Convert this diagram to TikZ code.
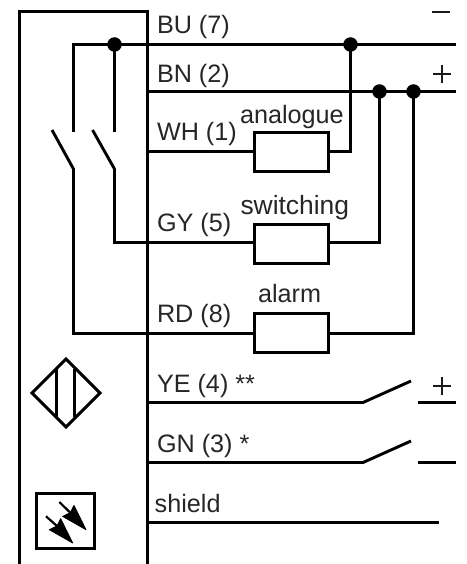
\documentclass[tikz,border=0pt]{standalone}
\usepackage{fontspec}
\setmainfont{Liberation Sans}
\tikzset{
  x=1pt,y=-1pt,
  wire/.style={line width=2.9pt,line cap=butt,line join=miter,black},
  dot/.style={circle,fill=black,inner sep=0pt,minimum size=14.5pt,draw=none},
  load/.style={draw=black,line width=2.9pt,fill=white,minimum width=74pt,minimum height=39pt,inner sep=0pt,outer sep=0pt},
  lbl/.style={anchor=base west,inner sep=0pt,outer sep=0pt,font=\fontsize{25.2}{28}\selectfont,text=black!85},
  sign/.style={line width=1.8pt,black!90},
  arrowhead/.style={fill=black,draw=black,line width=0.8pt,line join=round}
}
\begin{document}
\begin{tikzpicture}
\useasboundingbox (0,0) rectangle (466,564);
% coordinates
\coordinate (tl) at (19.5,11.5); \coordinate (tr) at (147.5,11.5);
\coordinate (bl) at (19.5,564); \coordinate (br) at (147.5,564);
\coordinate (buL) at (73.5,44.5); \coordinate (buR) at (456,44.5);
\coordinate (bnL) at (147.5,91.5); \coordinate (bnR) at (456,91.5);
\node[dot] (d1) at (114.5,44.5) {};
\node[dot] (d2) at (350.5,44.5) {};
\node[dot] (d3) at (379.5,91.5) {};
\node[dot] (d4) at (413.5,91.5) {};
% housing
\draw[wire] (bl) -- (tl) -- (tr) -- (br);
% rails
\draw[wire] (73.5,132) -- (buL) -- (buR);
\draw[wire] (bnL) -- (bnR);
\draw[wire] (d1.center) -- (114.5,132);
% switches and load wires
\draw[wire] (52,130) -- (73.5,169) -- (73.5,333.5) -- (254,333.5);
\draw[wire] (92.5,130) -- (114.5,169) -- (114.5,242.5) -- (254,242.5);
\draw[wire] (147.5,151.5) -- (254,151.5);
\draw[wire] (328,151.5) -- (350.5,151.5) -- (d2.center);
\draw[wire] (328,242.5) -- (379.5,242.5) -- (d3.center);
\draw[wire] (328,333.5) -- (413.5,333.5) -- (d4.center);
\node[load] (ra) at (291.5,152) {};
\node[load] (rs) at (291.5,244) {};
\node[load] (rr) at (291.5,333) {};
% lower outputs
\draw[wire] (147.5,402.5) -- (363,402.5) -- (411,381);
\draw[wire] (418,402.5) -- (456,402.5);
\draw[wire] (147.5,462.5) -- (363,462.5) -- (411,441);
\draw[wire] (418,462.5) -- (456,462.5);
\draw[wire] (147.5,522.5) -- (439,522.5);
% labels
\node[lbl] (t1) at (157,34) {BU (7)};
\node[lbl] (t2) at (157,83) {BN (2)};
\node[lbl] (t3) at (157,141) {WH (1)};
\node[lbl] (t4) at (240,124) {analogue};
\node[lbl] (t5) at (157,231) {GY (5)};
\node[lbl,font=\fontsize{26.4}{28}\selectfont] (t6) at (240.5,214) {switching};
\node[lbl] (t7) at (157,322.5) {RD (8)};
\node[lbl] (t8) at (258,302) {alarm};
\node[lbl] (t9) at (157,392) {YE (4) **};
\node[lbl] (t10) at (157,452) {GN (3) *};
\node[lbl] (t11) at (154.7,512.3) {shield};
% signs
\draw[sign] (432,12) -- (450,12);
\draw[sign] (433,74) -- (451,74) (442,65) -- (442,83);
\draw[sign] (433,386) -- (451,386) (442,377) -- (442,395);
% diamond sensor
\draw[wire] (66,359) -- (100,393) -- (66,427) -- (32,393) -- cycle;
\draw[wire] (56.5,369) -- (56.5,417);
\draw[wire] (74.5,369) -- (74.5,417);
% photo symbol
\draw[wire] (36.5,493.5) rectangle (94.5,548.5);
\draw[line width=2.2pt] (59.3,502) -- (70.3,512.7);
\filldraw[arrowhead] (86,529.7) -- (74,505.4) -- (70.3,512.7) -- (62.6,516.4) -- cycle;
\draw[line width=2.2pt] (46,516.3) -- (57,526);
\filldraw[arrowhead] (72.7,543) -- (60.7,518.7) -- (57,526) -- (49.3,529.7) -- cycle;
\end{tikzpicture}
\end{document}
